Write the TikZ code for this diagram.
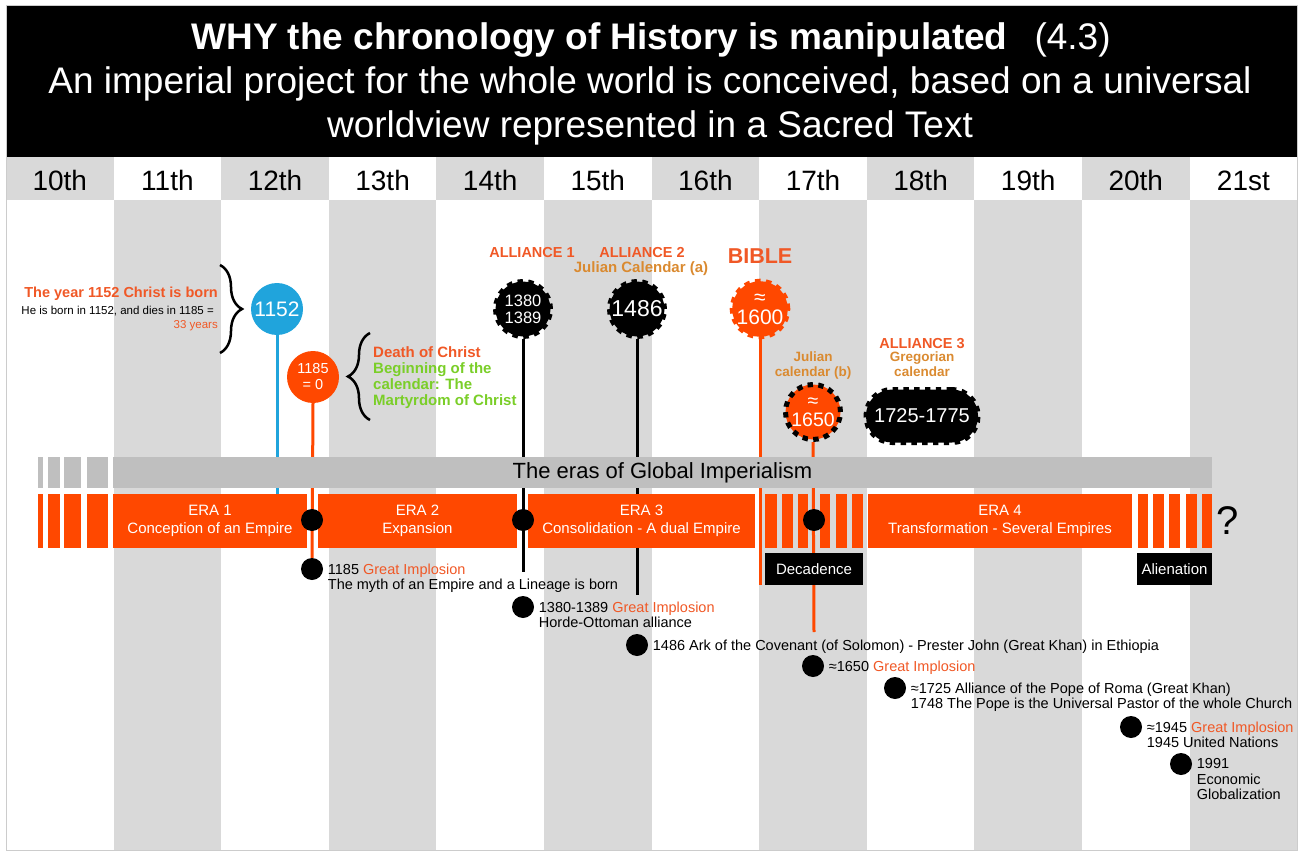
\documentclass[tikz,border=0pt]{standalone}
\usepackage{fontspec}
\setmainfont{Liberation Sans}
\usetikzlibrary{backgrounds,decorations.pathreplacing}

\definecolor{eraorange}{RGB}{255,72,0}
\definecolor{noteorange}{RGB}{240,88,38}
\definecolor{calochre}{RGB}{218,138,48}
\definecolor{martgreen}{RGB}{122,206,40}
\definecolor{birthblue}{RGB}{32,164,220}
\definecolor{colgray}{RGB}{217,217,217}
\definecolor{bargray}{RGB}{191,191,191}

\tikzset{
  era/.style={fill=eraorange, text=white, align=center, inner sep=0pt, minimum height=54pt, font=\fontsize{15}{18}\selectfont},
  medal/.style={circle, fill=#1, text=white, inner sep=0pt, minimum size=52pt, align=center},
  gear/.style={circle, fill=#1, text=white, inner sep=0pt, minimum size=55pt, align=center},
  teeth/.style={draw=#1, line width=5pt, dash pattern=on 5.4pt off 5.4pt},
  evdot/.style={circle, fill=black, inner sep=0pt, minimum size=22pt},
  evtext/.style={anchor=north west, align=left, inner sep=0pt, font=\fontsize{14.5}{15.5}\selectfont},
  tagbox/.style={fill=black, text=white, minimum width=#1, minimum height=32pt, inner sep=0pt, font=\fontsize{15}{18}\selectfont},
  stem/.style={draw=#1, line width=3pt},
  headline/.style={anchor=base, text=white, inner sep=0pt, font=\fontsize{37}{44}\selectfont},
  alliance/.style={anchor=base, text=noteorange, inner sep=0pt, font=\bfseries\fontsize{14.5}{16}\selectfont},
  calnote/.style={anchor=north, align=center, text=calochre, inner sep=0pt, font=\bfseries\fontsize{13.5}{15}\selectfont}
}

\begin{document}
\begin{tikzpicture}[x=1pt,y=-1pt]
\useasboundingbox (0,0) rectangle (1301,853);

% header
\fill[black] (6,6) rectangle (1297,157);
\node[headline] (title) at (651,50) {\textbf{WHY the chronology of History is manipulated}\hspace{27pt}(4.3)};
\node[headline] (subtitle) at (650,94) {An imperial project for the whole world is conceived, based on a universal};
\node[headline] (sacred) at (650,138) {worldview represented in a Sacred Text};

% centuries
\foreach \i in {0,2,...,10}
    \fill[colgray] ({6+107.6*\i},157) rectangle +(107.6,43);
\foreach \c [count=\i from 0] in {10th,11th,12th,13th,14th,15th,16th,17th,18th,19th,20th,21st}
    \node[anchor=base, inner sep=0pt, font=\fontsize{28}{30}\selectfont] (cent\i) at ({59.8+107.6*\i},191) {\c};

% bars
\node[fill=bargray, minimum width=1099pt, minimum height=31pt, inner sep=0pt, font=\fontsize{22}{24}\selectfont] (eras) at (662.5,472.5) {The eras of Global Imperialism};
\foreach \a/\b in {38/43,48/60,64/81,87/108} {
    \fill[bargray] (\a,457) rectangle (\b,488);
    \fill[eraorange] (\a,494) rectangle (\b,548);
}
\foreach \a/\b in {765/777,782/793,798/808,820/830,836/847,852/863,1138/1148,1153/1164,1169/1180,1186/1197,1202/1212}
    \fill[eraorange] (\a,494) rectangle (\b,548);
\node[era, minimum width=194pt] (era1) at (210,521) {ERA 1\\Conception of an Empire};
\node[era, minimum width=199pt] (era2) at (417.5,521) {ERA 2\\Expansion};
\node[era, minimum width=227pt] (era3) at (641.5,521) {ERA 3\\Consolidation - A dual Empire};
\node[era, minimum width=264pt] (era4) at (1000,521) {ERA 4\\Transformation - Several Empires};
\node[inner sep=0pt, font=\fontsize{40}{44}\selectfont] (unknown) at (1228,521) {?};
\node[tagbox=98pt] (decad) at (814,569) {Decadence};
\node[tagbox=75pt] (alien) at (1174.5,569) {Alienation};

% medals and gears
\node[medal=birthblue, font=\fontsize{21}{22}\selectfont] (c1152) at (277,309) {1152};
\node[medal=eraorange, font=\fontsize{14.5}{16}\selectfont] (c1185) at (313,377) {1185\\= 0};
\node[gear=black, teeth=black, font=\fontsize{16.5}{17}\selectfont] (g1380) at (523,309) {1380\\1389};
\node[gear=black, teeth=black, font=\fontsize{23}{24}\selectfont] (g1486) at (637,309) {1486};
\node[gear=eraorange, teeth=eraorange, font=\fontsize{21}{20}\selectfont] (g1600) at (760,309) {≈\\1600};
\node[gear=eraorange, teeth=black, font=\fontsize{19.5}{19}\selectfont] (g1650) at (813,412) {≈\\1650};
\node[fill=black, teeth=black, rounded corners=26pt, minimum width=112pt, minimum height=53pt, inner sep=0pt, text=white, font=\fontsize{20}{22}\selectfont] (g1725) at (922,416) {1725-1775};

% notes
\node[anchor=base east, inner sep=0pt, text=noteorange, font=\bfseries\fontsize{14.5}{16}\selectfont] (bornhead) at (218,297) {The year 1152 Christ is born};
\node[anchor=base east, inner sep=0pt, font=\fontsize{11.5}{13}\selectfont] (bornsub) at (214,314) {He is born in 1152, and dies in 1185 =};
\node[anchor=base east, inner sep=0pt, text=noteorange, font=\fontsize{11.5}{13}\selectfont] (bornyears) at (218,328) {33 years};
\draw[decorate, decoration={brace, amplitude=22pt}, line width=2.5pt] (220,265) -- (220,353);
\node[anchor=north west, align=left, inner sep=0pt, text=martgreen, font=\bfseries\fontsize{15}{16}\selectfont] (deathnote) at (373,346.5) {\textcolor{noteorange}{Death of Christ}\\Beginning of the\\calendar: The\\Martyrdom of Christ};
\draw[decorate, decoration={brace, amplitude=22pt}, line width=2.5pt] (370,420) -- (370,333);

\node[alliance] (all1) at (532,257) {ALLIANCE 1};
\node[alliance] (all2) at (642,257) {ALLIANCE 2};
\node[alliance, text=calochre, font=\bfseries\fontsize{15}{16}\selectfont] (julian1) at (641,272) {Julian Calendar (a)};
\node[alliance, font=\bfseries\fontsize{21.5}{24}\selectfont] (bible) at (760,263) {BIBLE};
\node[calnote] (julian2) at (813,352) {Julian\\calendar (b)};
\node[alliance] (all3) at (922,348) {ALLIANCE 3};
\node[calnote] (gregor) at (922,352) {Gregorian\\calendar};

% events
\node[evdot] (b1185) at (312,520) {};
\node[evdot] (b1380) at (523,520) {};
\node[evdot] (b1650) at (814,520) {};
\node[evdot] (d1185) at (312,569) {};
\node[evdot] (d1380) at (523,607) {};
\node[evdot] (d1486) at (637,645) {};
\node[evdot] (d1650) at (813,666) {};
\node[evdot] (d1725) at (895,688) {};
\node[evdot] (d1945) at (1131,727) {};
\node[evdot] (d1991) at (1181,764) {};
\node[evtext] (t1185) at ([xshift=4.5pt,yshift=5.4pt]d1185.east) {1185 \textcolor{noteorange}{Great Implosion}\\The myth of an Empire and a Lineage is born};
\node[evtext] (t1380) at ([xshift=4.5pt,yshift=5.4pt]d1380.east) {1380-1389 \textcolor{noteorange}{Great Implosion}\\Horde-Ottoman alliance};
\node[evtext] (t1486) at ([xshift=4.5pt,yshift=5.4pt]d1486.east) {1486 Ark of the Covenant (of Solomon) - Prester John (Great Khan) in Ethiopia};
\node[evtext] (t1650) at ([xshift=4.5pt,yshift=5.4pt]d1650.east) {≈1650 \textcolor{noteorange}{Great Implosion}};
\node[evtext] (t1725) at ([xshift=4.5pt,yshift=5.4pt]d1725.east) {≈1725 Alliance of the Pope of Roma (Great Khan)\\1748 The Pope is the Universal Pastor of the whole Church};
\node[evtext] (t1945) at ([xshift=4.5pt,yshift=5.4pt]d1945.east) {≈1945 \textcolor{noteorange}{Great Implosion}\\1945 United Nations};
\node[evtext] (t1991) at ([xshift=4.5pt,yshift=5.4pt]d1991.east) {1991\\Economic\\Globalization};

\coordinate (e1152) at (277,494);
\coordinate (e1380) at (523,572);
\coordinate (e1486) at (637,595);
\coordinate (e1600) at (760,585);
\coordinate (e1650) at (814,632);

\draw[black!20, line width=1pt] (6,6) rectangle (1297,850);

% columns and stems behind the bars
\begin{scope}[on background layer]
\foreach \i in {1,3,...,11}
    \fill[colgray] ({6+107.6*\i},200) rectangle +(107.6,650);
\draw[stem=birthblue] (c1152.south) -- (e1152);
\draw[stem=eraorange] (c1185.south) -- (d1185);
\draw[stem=black] (g1380.south) -- (e1380);
\draw[stem=black] (g1486.south) -- (e1486);
\draw[stem=eraorange] (g1600.south) -- (e1600);
\draw[stem=eraorange] (g1650.south) -- (e1650);
\end{scope}
\end{tikzpicture}
\end{document}
